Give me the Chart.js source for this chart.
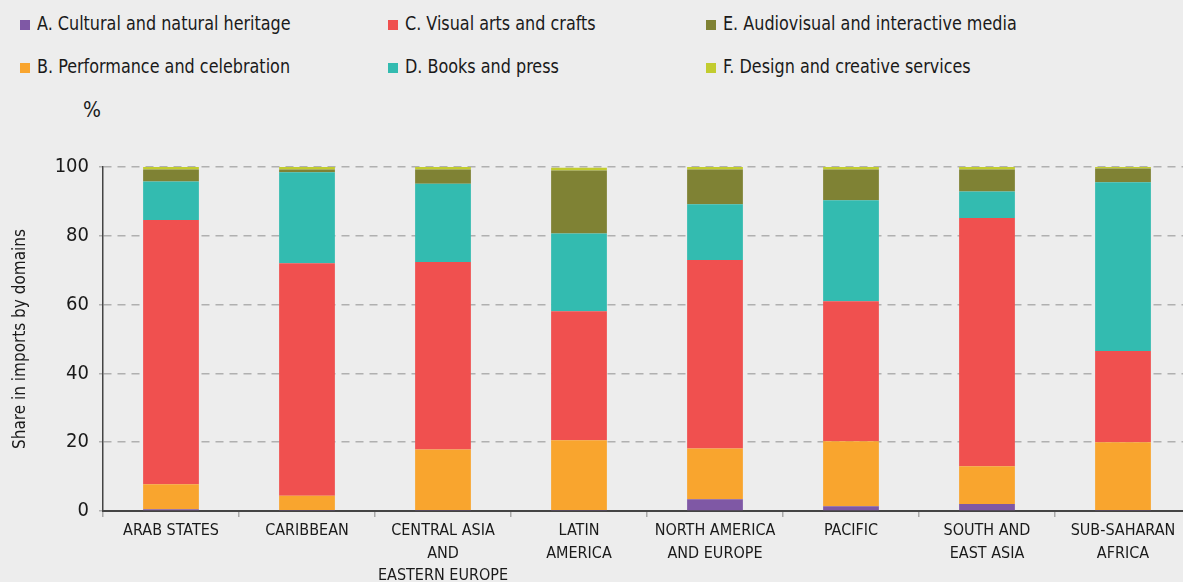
<!DOCTYPE html>
<html>
<head>
<meta charset="utf-8">
<script src="https://cdn.jsdelivr.net/npm/chart.js@4.4.1/dist/chart.umd.min.js"></script>
<style>
  body { margin: 0; background: #ededed; overflow: hidden; color: #1a1a1a;
         font-family: "DejaVu Sans Condensed", "Liberation Sans", sans-serif; }
  #wrap { position: absolute; left: 0; top: 0; width: 1191px; height: 600px; }
  .item { position: absolute; font-size: 20px; white-space: nowrap; line-height: 20px; }
  .item i { display: inline-block; width: 10px; height: 10px; margin-right: 7px; }
  .item b { display: inline-block; font-weight: normal; transform: scaleX(0.89); transform-origin: left center; }
  #pct { position: absolute; left: 83px; top: 98px; font-size: 21px; }
</style>
</head>
<body>
<div id="legend"></div>
<div id="pct">%</div>
<div id="wrap"><canvas id="chart"></canvas></div>
<script>
// regions on the x axis (multi-line labels)
const regions = [
  ["ARAB STATES"],
  ["CARIBBEAN"],
  ["CENTRAL ASIA", "AND", "EASTERN EUROPE"],
  ["LATIN", "AMERICA"],
  ["NORTH AMERICA", "AND EUROPE"],
  ["PACIFIC"],
  ["SOUTH AND", "EAST ASIA"],
  ["SUB-SAHARAN", "AFRICA"],
];

const domainNames = [
  "A. Cultural and natural heritage",
  "B. Performance and celebration",
  "C. Visual arts and crafts",
  "D. Books and press",
  "E. Audiovisual and interactive media",
  "F. Design and creative services",
];

// share in imports, %
const heritage    = [0.5, 0.3, 0.3, 0.3, 3.4, 1.4, 2.0, 0.3];
const performance = [7.3, 4.1, 17.6, 20.3, 14.8, 18.9, 11.0, 19.7];
const visualArts  = [76.8, 67.6, 54.5, 37.5, 54.8, 40.7, 72.2, 26.5];
const books       = [11.2, 26.5, 22.7, 22.6, 16.2, 29.3, 7.7, 49.1];
const audiovisual = [3.5, 0.8, 4.2, 18.3, 10.1, 9.0, 6.4, 4.0];
const design      = [0.7, 0.7, 0.7, 0.8, 0.7, 0.7, 0.7, 0.5];

const yTicks = [0, 20, 40, 60, 80, 100];

const colors = ["#7f58a5", "#f9a52e", "#f0504f", "#33bbb0", "#7f8234", "#c2cc2f"];
const series = [heritage, performance, visualArts, books, audiovisual, design];

const font = '"DejaVu Sans Condensed", "Liberation Sans", sans-serif';

// legend in 3 columns, filled top to bottom
const legendX = [20, 388, 706];
const legendY = [13, 56];
const legend = document.getElementById("legend");
domainNames.forEach((name, i) => {
  const d = document.createElement("div");
  d.className = "item";
  d.style.left = legendX[Math.floor(i / 2)] + "px";
  d.style.top = legendY[i % 2] + "px";
  d.innerHTML = `<i style="background:${colors[i]}"></i><b>${name}</b>`;
  legend.appendChild(d);
});

new Chart(document.getElementById("chart"), {
  type: "bar",
  data: {
    labels: regions,
    datasets: series.map((s, i) => ({
      label: domainNames[i],
      data: s,
      backgroundColor: colors[i],
      borderWidth: 0,
      barPercentage: 1,
      categoryPercentage: 0.41,
    })),
  },
  options: {
    responsive: true,
    maintainAspectRatio: false,
    animation: false,
    layout: { padding: { top: 167, left: 0, right: 0, bottom: 0 } },
    plugins: { legend: { display: false }, tooltip: { enabled: false } },
    scales: {
      x: {
        stacked: true,
        z: 1,
        afterFit: (s) => { s.height = 89; },
        grid: { drawOnChartArea: false, drawTicks: true, tickLength: 6, color: "#aaaaaa", lineWidth: 1.5 },
        border: { color: "#444444", width: 2 },
        ticks: { color: "#1a1a1a", padding: 3, autoSkip: false, maxRotation: 0,
                 font: { family: font, size: 16, lineHeight: 1.4 } },
      },
      y: {
        stacked: true,
        min: 0,
        max: 100,
        afterFit: (s) => { s.width = 103; },
        afterBuildTicks: (s) => { s.ticks = yTicks.map((v) => ({ value: v })); },
        grid: { color: "#b0b0b0", lineWidth: 1.5, tickLength: 4 },
        border: { color: "#444444", width: 1.5, dash: [8, 6] },
        ticks: { color: "#1a1a1a", padding: 10, font: { family: font, size: 20 } },
        title: { display: true, text: "Share in imports by domains", color: "#1a1a1a",
                 padding: { top: 10, bottom: 0 }, font: { family: font, size: 17 } },
      },
    },
  },
});
</script>
</body>
</html>
